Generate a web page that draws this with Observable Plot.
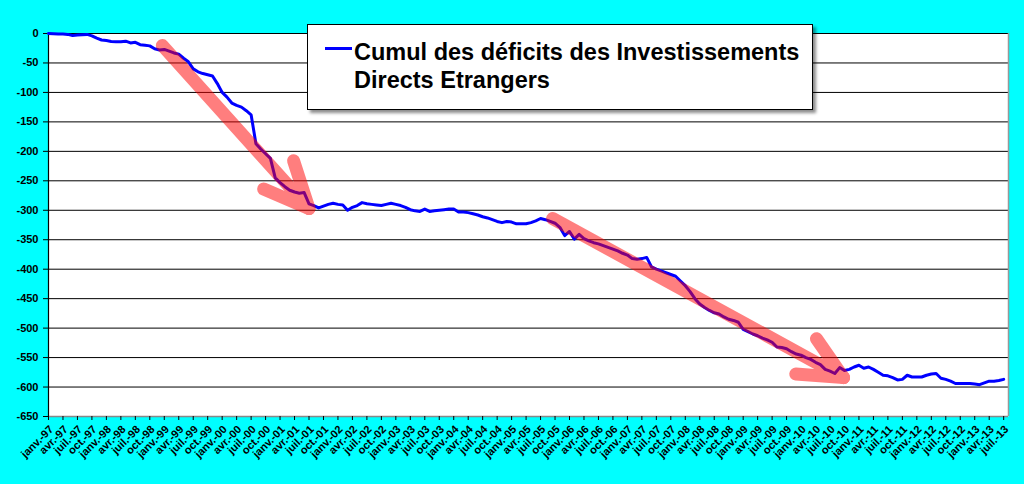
<!DOCTYPE html>
<html>
<head>
<meta charset="utf-8">
<script src="https://cdn.jsdelivr.net/npm/d3@7"></script>
<script src="https://cdn.jsdelivr.net/npm/@observablehq/plot@0.6"></script>
<style>
  html, body { margin: 0; padding: 0; background: #00ffff; }
  #wrap { position: relative; width: 1024px; height: 484px; overflow: hidden; background: #00ffff; }
  #legend { position: absolute; left: 307px; top: 24px; width: 504px; height: 84px; background: #fff;
    border: 1px solid #000; box-shadow: 3px 3px 3px rgba(0,0,0,0.45);
    font-family: "Liberation Sans", Arial, sans-serif; font-weight: bold; font-size: 23.5px; line-height: 28px; color: #000; }
  #legend .sw { position: absolute; left: 17px; top: 22px; width: 27px; height: 3px; background: #0000ff; }
  #legend .tx { position: absolute; left: 46px; top: 13px; white-space: nowrap; }
</style>
</head>
<body>
<div id="wrap">
  <div id="chart"></div>
  <div id="legend"><div class="sw"></div><div class="tx">Cumul des déficits des Investissements<br>Directs Etrangers</div></div>
</div>
<script>
// Monthly cumulative values, janv.-97 .. juil.-13 (199 months)
const values = [
  0, -0.5, -1, -1, -1.5, -3.5, -2.5, -2, -1.5, -4, -8, -11,
  -12, -13.5, -14, -14, -13, -16, -15, -19, -20, -21, -26, -28,
  -27, -30, -33, -35, -42, -48, -60, -65, -68, -70, -72, -85,
  -100, -108, -118, -122, -125, -131, -138, -187, -196, -204, -212, -245,
  -253, -260, -266, -269, -271, -270, -289, -292, -296, -293, -290, -288,
  -290, -291, -300, -295, -292, -287, -289, -290, -291, -292, -290, -288,
  -290, -292, -295, -299, -301, -302, -298, -302, -301, -300, -299, -298,
  -298, -303, -303, -304, -306, -308, -311, -313, -316, -319, -321, -319,
  -320, -323, -323, -323, -321, -318, -314, -316, -319, -322, -329, -343,
  -336, -349, -341, -348, -352, -355, -357, -360, -363, -366, -369, -373,
  -376, -382, -383, -382, -380, -396, -400, -403, -406, -409, -412, -420,
  -428, -438, -450, -459, -465, -470, -474, -476, -481, -485, -487, -490,
  -502, -506, -510, -513, -517, -520, -524, -532, -533, -535, -540, -544,
  -546, -550, -553, -558, -562, -570, -573, -577, -567, -572, -570, -566,
  -563, -568, -566, -570, -575, -580, -581, -584, -588, -587, -580, -583,
  -583, -583, -580, -578, -577, -585, -587, -590, -594, -594, -594, -594,
  -595, -596, -593, -590, -590, -589, -587
];
const months = ["janv.", "avr.", "juil.", "oct."];
const years = ["97","98","99","00","01","02","03","04","05","06","07","08","09","10","11","12","13"];
const xTickLabels = [];
years.forEach(y => months.forEach(m => xTickLabels.push(m + "-" + y)));
xTickLabels.length = 67; // up to juil.-13
const xTicks = xTickLabels.map((_, i) => i * 3);
const yTicks = [0, -50, -100, -150, -200, -250, -300, -350, -400, -450, -500, -550, -600, -650];

// Hand-drawn arrow annotations (month index, value)
const arrowX1 = [23.6, 44.6, 50.8, 104.5, 154.9, 159.2];
const arrowY1 = [-20.4, -264, -216, -314, -578, -518];
const arrowX2 = [54.0, 54.0, 54.0, 164.8, 164.8, 164.8];
const arrowY2 = [-297, -297, -297, -584, -584, -584];

const series = values.map((v, i) => ({m: i, v}));
const arrows = arrowX1.map((x, i) => ({x1: x, y1: arrowY1[i], x2: arrowX2[i], y2: arrowY2[i]}));

const plot = Plot.plot({
  width: 1024,
  height: 484,
  marginLeft: 48,
  marginRight: 16,
  marginTop: 33,
  marginBottom: 68,
  style: {background: "transparent", fontFamily: "Liberation Sans, Arial, sans-serif", color: "#000"},
  x: {type: "linear", domain: [0, 199]},
  y: {type: "linear", domain: [-650, 0]},
  marks: [
    Plot.frame({fill: "white", stroke: null}),
    Plot.ruleY(yTicks.slice(0, -1), {stroke: "black", strokeWidth: 1}),
    Plot.ruleX([199], {stroke: "#999", strokeWidth: 1.5}),
    Plot.ruleY([-650], {stroke: "#888", strokeWidth: 1.5}),
    Plot.ruleX([0], {stroke: "black", strokeWidth: 1.2}),
    Plot.axisY({ticks: yTicks, tickSize: 5, tickPadding: 5, tickFormat: d => String(d),
      fontSize: 11, fontWeight: "bold", stroke: "black"}),
    Plot.axisX({ticks: xTicks, tickSize: 4, tickFormat: () => "", stroke: "black"}),
    Plot.text(xTicks, {x: d => d, y: -650, text: (d, i) => xTickLabels[i], rotate: -45,
      textAnchor: "end", lineAnchor: "middle", dx: 3, dy: 11, fontSize: 11, fontWeight: "bold", fill: "black"}),
    Plot.line(series, {x: "m", y: "v", stroke: "#0000ff", strokeWidth: 3, strokeLinejoin: "round"}),
    Plot.link(arrows, {x1: "x1", y1: "y1", x2: "x2", y2: "y2", stroke: "#ff0000", strokeWidth: 13, strokeLinecap: "round"})
  ]
});
// make the arrows one translucent layer
plot.querySelectorAll('g[aria-label="link"]').forEach(g => g.setAttribute("opacity", "0.5"));
document.getElementById("chart").appendChild(plot);
</script>
</body>
</html>
